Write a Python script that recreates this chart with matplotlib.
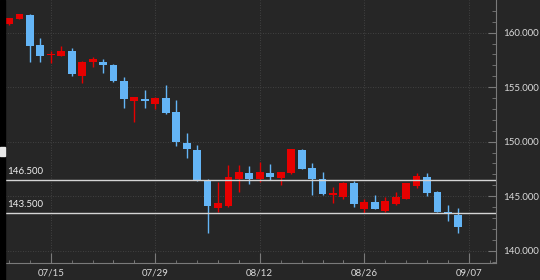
# -*- coding: utf-8 -*-
"""USD/JPY daily candlestick chart (Jul - Sep) with two horizontal levels."""

import matplotlib

matplotlib.use("Agg")
import matplotlib.pyplot as plt
from matplotlib.patches import Rectangle

plt.rcParams["font.family"] = ["Lato", "DejaVu Sans"]

dates = ["07/09", "07/10", "07/11", "07/12", "07/15", "07/16", "07/17", "07/18",
         "07/19", "07/22", "07/23", "07/24", "07/25", "07/26", "07/29", "07/30",
         "07/31", "08/01", "08/02", "08/05", "08/06", "08/07", "08/08", "08/09",
         "08/12", "08/13", "08/14", "08/15", "08/16", "08/19", "08/20", "08/21",
         "08/22", "08/23", "08/26", "08/27", "08/28", "08/29", "08/30", "09/02",
         "09/03", "09/04", "09/05", "09/06"]
opens = [160.78, 161.28, 161.62, 158.84, 157.98, 157.89, 158.32, 156.06,
         157.28, 157.34, 157.04, 155.57, 153.76, 153.89, 153.43, 153.98,
         152.70, 149.85, 149.24, 146.49, 143.89, 144.10, 146.58, 147.10,
         146.58, 147.10, 146.70, 147.10, 149.24, 147.56, 146.58, 145.13,
         144.95, 146.24, 143.86, 144.50, 143.67, 144.26, 144.72, 145.94,
         146.73, 145.41, 143.58, 143.28]
highs = [161.38, 161.74, 161.72, 159.49, 158.35, 158.80, 158.57, 157.40,
         157.80, 157.59, 157.10, 155.96, 154.10, 154.74, 154.10, 155.20,
         153.83, 150.83, 149.70, 146.55, 146.30, 147.90, 147.86, 147.77,
         148.17, 147.95, 147.25, 149.35, 149.30, 148.02, 147.25, 145.87,
         146.33, 146.42, 144.72, 145.11, 144.90, 145.41, 146.20, 147.16,
         147.10, 145.50, 144.19, 143.89]
lows = [160.74, 161.24, 157.35, 157.35, 157.20, 157.85, 156.06, 155.36,
        156.88, 156.28, 155.50, 153.06, 151.83, 153.06, 152.97, 152.55,
        149.60, 148.48, 146.40, 141.60, 143.58, 144.05, 145.35, 146.12,
        146.33, 146.49, 146.03, 147.05, 147.45, 145.11, 145.11, 144.40,
        144.72, 143.98, 143.43, 143.78, 143.58, 144.19, 144.70, 145.72,
        145.02, 143.55, 142.75, 141.65]
closes = [161.32, 161.70, 158.81, 157.86, 158.08, 158.35, 156.18, 157.34,
          157.56, 157.04, 155.57, 153.89, 154.07, 153.71, 154.04, 152.60,
          149.94, 149.30, 146.49, 144.10, 144.35, 146.72, 147.22, 146.58,
          147.19, 146.73, 147.25, 149.33, 147.50, 146.58, 145.20, 145.25,
          146.24, 144.26, 144.50, 143.80, 144.56, 144.95, 146.18, 146.85,
          145.27, 143.58, 143.37, 142.20]
levels = [146.5, 143.5]
tick_labels = ["07/15", "07/29", "08/12", "08/26", "09/07"]

BG = "#262626"
UP = "#e60000"
DOWN = "#64b5f6"
AXIS = "#7a7a7a"
TEXT = "#d9d9d9"


def main() -> None:
    fig = plt.figure(figsize=(5.4, 2.8), dpi=100, facecolor=BG)
    ax = fig.add_axes([5 / 540, 17 / 280, 491 / 540, 263 / 280], facecolor=BG)

    # left black strip with the small tab
    fig.patches.append(Rectangle((0, 0), 5 / 540, 1, transform=fig.transFigure,
                                 color="black", zorder=0))
    fig.patches.append(Rectangle((0, 124 / 280), 5 / 540, 9 / 280,
                                 transform=fig.transFigure, color="#e8e8e8", zorder=1))

    x = list(range(len(dates)))
    colors = [UP if c >= o else DOWN for o, c in zip(opens, closes)]
    bottoms = [min(o, c) for o, c in zip(opens, closes)]
    heights = [max(abs(c - o), 0.07) for o, c in zip(opens, closes)]

    ax.vlines(x, lows, highs, colors=colors, linewidth=1.0, zorder=3)
    ax.bar(x, heights, bottom=bottoms, width=0.75, color=colors, linewidth=0, zorder=4)

    for lv in levels:
        ax.axhline(lv, color="#d4d4d4", linewidth=1.0, zorder=5)
        ax.text(0.004, lv + 0.35, f"{lv:.3f}", transform=ax.get_yaxis_transform(),
                color="#f0f0f0", fontsize=7, ha="left", va="bottom", zorder=6)

    start = dates.index(tick_labels[0])
    major = [start + 10 * k for k in range(len(tick_labels))]
    ax.set_xticks(major)
    ax.set_xticklabels(tick_labels)
    ax.set_xticks([m + d for m in major for d in (-4, -2, 2, 4, 6, 8)
                   if -0.4 < m + d < 46.6 and m + d not in major], minor=True)
    ax.set_xlim(-0.38, 46.6)

    ax.set_ylim(138.87, 163.0)
    ax.set_yticks([140, 145, 150, 155, 160])
    ax.set_yticks(range(139, 163), minor=True)
    ax.yaxis.tick_right()
    ax.yaxis.set_major_formatter(lambda v, _: f"{v:.3f}")

    ax.tick_params(axis="both", which="both", direction="in", colors=AXIS,
                   labelcolor=TEXT, labelsize=7)
    ax.tick_params(axis="x", which="major", length=7, pad=4)
    ax.tick_params(axis="x", which="minor", length=2.5)
    ax.tick_params(axis="y", which="major", length=6, pad=5)
    ax.tick_params(axis="y", which="minor", length=3)

    for side in ("top", "left"):
        ax.spines[side].set_visible(False)
    for side in ("right", "bottom"):
        ax.spines[side].set_color(AXIS)
        ax.spines[side].set_linewidth(0.8)

    ax.grid(True, which="major", color="#4a4a4a", linestyle=(0, (1, 2)), linewidth=0.6)
    ax.set_axisbelow(True)

    fig.savefig("out.png", dpi=100, facecolor=BG)
    plt.close(fig)


if __name__ == "__main__":
    main()
